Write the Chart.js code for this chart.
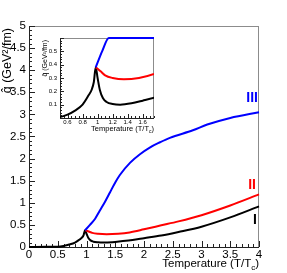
<!DOCTYPE html>
<html>
<head>
<meta charset="utf-8">
<script src="https://cdn.jsdelivr.net/npm/chart.js@4.4.0/dist/chart.umd.min.js"></script>
<style>
  html, body { margin: 0; padding: 0; background: #fff; }
  #wrap { position: relative; width: 287px; height: 273px; }
  #main { position: absolute; left: 0; top: 0; }
  #inset { position: absolute; left: 36px; top: 28px; }
</style>
</head>
<body>
<div id="wrap">
  <canvas id="main" width="287" height="273"></canvas>
  <canvas id="inset" width="124" height="108"></canvas>
</div>
<script>
// --- data (T/Tc, qhat in GeV^2/fm) ---
var tBlack = [0, 0.3, 0.5, 0.6, 0.7, 0.8, 0.88, 0.92, 0.95, 0.975, 1.0, 1.03, 1.07, 1.12, 1.2, 1.3, 1.45, 1.6, 1.8, 2.0, 2.3, 2.6, 3.0, 3.5, 4.0]
var qBlack = [0.0, 0.003, 0.008, 0.025, 0.055, 0.1, 0.17, 0.21, 0.27, 0.38, 0.3, 0.21, 0.15, 0.12, 0.105, 0.1, 0.11, 0.13, 0.16, 0.2, 0.26, 0.34, 0.46, 0.67, 0.92]

var tRed = [0.975, 1.0, 1.04, 1.1, 1.2, 1.35, 1.55, 1.75, 2.0, 2.3, 2.6, 3.0, 3.5, 4.0]
var qRed = [0.38, 0.37, 0.35, 0.32, 0.3, 0.29, 0.3, 0.33, 0.4, 0.49, 0.58, 0.72, 0.94, 1.19]

var tBlue = [0.975, 1.06, 1.15, 1.23, 1.32, 1.41, 1.5, 1.58, 1.76, 1.93, 2.1, 2.28, 2.45, 2.85, 3.1, 3.5, 4.0]
var qBlue = [0.38, 0.5, 0.64, 0.82, 1.02, 1.24, 1.46, 1.63, 1.91, 2.1, 2.25, 2.37, 2.47, 2.64, 2.77, 2.92, 3.05]

var mainXTicks = [0, 0.5, 1, 1.5, 2, 2.5, 3, 3.5, 4]
var mainYTicks = [0, 0.5, 1, 1.5, 2, 2.5, 3, 3.5, 4, 4.5, 5]
var insetXTicks = [0.6, 0.8, 1, 1.2, 1.4, 1.6]
var insetYTicks = [0.1, 0.2, 0.3, 0.4, 0.5]

var curveLabels = ["I", "II", "III"]

var FONT = "'Liberation Sans', Arial, sans-serif"

function pts(ts, qs, cap) {
  return ts.map(function (t, i) {
    return { x: t, y: cap === undefined ? qs[i] : Math.min(qs[i], cap) }
  })
}

function fixTicks(arr) {
  return function (scale) { scale.ticks = arr.map(function (v) { return { value: v } }) }
}

// ROOT-like frame, inside ticks, titles and curve labels
var rootFrame = {
  id: "rootFrame",
  beforeDatasetsDraw: function (chart, args, o) {
    var ctx = chart.ctx, a = chart.chartArea, x = chart.scales.x, y = chart.scales.y
    ctx.save()
    ctx.lineWidth = 1
    ctx.strokeStyle = "#8c8c8c"
    ctx.strokeRect(a.left + 0.5, a.top + 0.5, a.right - a.left - 1, a.bottom - a.top)
    ctx.strokeStyle = "#222"
    ctx.beginPath()
    ctx.moveTo(a.left + 0.5, a.top); ctx.lineTo(a.left + 0.5, a.bottom + 0.5)
    ctx.lineTo(a.right, a.bottom + 0.5)
    var v, p
    for (v = x.min; v <= x.max + 1e-9; v += o.xMinor) {
      p = Math.round(x.getPixelForValue(v)) + 0.5
      var big = Math.abs(v / o.xMajor - Math.round(v / o.xMajor)) < 1e-6
      ctx.moveTo(p, a.bottom); ctx.lineTo(p, a.bottom - (big ? o.major : o.minor))
    }
    for (v = y.min; v <= y.max + 1e-9; v += o.yMinor) {
      p = Math.round(y.getPixelForValue(v)) + 0.5
      var bigY = Math.abs(v / o.yMajor - Math.round(v / o.yMajor)) < 1e-6
      ctx.moveTo(a.left, p); ctx.lineTo(a.left + (bigY ? o.major : o.minor), p)
    }
    ctx.stroke()
    ctx.restore()
  },
  afterDatasetsDraw: function (chart, args, o) {
    var ctx = chart.ctx, a = chart.chartArea
    ctx.save()
    ctx.fillStyle = "#000"
    // x title with subscript c, right aligned
    var fs = o.titleSize
    ctx.font = fs + "px " + FONT
    ctx.textBaseline = "alphabetic"
    var s1 = "Temperature (T/T", s3 = ")"
    var w1 = ctx.measureText(s1).width, w3 = ctx.measureText(s3).width
    ctx.font = Math.round(fs * 0.7) + "px " + FONT
    var w2 = ctx.measureText("c").width
    var x0 = a.right - (w1 + w2 + w3), yb = a.bottom + o.xTitleDy
    ctx.font = fs + "px " + FONT
    ctx.fillText(s1, x0, yb)
    ctx.fillText(s3, x0 + w1 + w2, yb)
    ctx.font = Math.round(fs * 0.7) + "px " + FONT
    ctx.fillText("c", x0 + w1, yb + fs * 0.3)
    // y title, rotated, end at top
    ctx.font = o.yTitleSize + "px " + FONT
    ctx.translate(o.yTitleX, a.top + o.yTitleDy)
    ctx.rotate(-Math.PI / 2)
    ctx.textAlign = "right"
    ctx.textBaseline = "middle"
    ctx.fillText("q\u0302 (GeV\u00b2/fm)", 0, 0)
    ctx.restore()
    if (o.labels) {
      var xs = chart.scales.x, ys = chart.scales.y
      ctx.save()
      ctx.font = "bold 14px " + FONT
      ctx.textAlign = "center"
      ctx.textBaseline = "middle"
      o.labels.forEach(function (l) {
        ctx.fillStyle = l.color
        ctx.fillText(l.text, xs.getPixelForValue(l.at[0]), ys.getPixelForValue(l.at[1]))
      })
      ctx.restore()
    }
  }
}

function lineSet(data, color, width, clip) {
  return {
    data: data, borderColor: color, borderWidth: width, pointRadius: 0,
    cubicInterpolationMode: "monotone", fill: false, clip: clip
  }
}

new Chart(document.getElementById("main"), {
  type: "line",
  data: {
    datasets: [
      lineSet(pts(tBlue, qBlue), "#0000ff", 2, false),
      lineSet(pts(tRed, qRed), "#ff0000", 2, false),
      lineSet(pts(tBlack, qBlack), "#000000", 2, false)
    ]
  },
  options: {
    responsive: false,
    devicePixelRatio: 1,
    animation: false,
    layout: { padding: { top: 26, right: 28, left: 0, bottom: 0 } },
    plugins: {
      legend: { display: false },
      tooltip: { enabled: false },
      rootFrame: {
        xMajor: 0.5, xMinor: 0.1, yMajor: 0.5, yMinor: 0.1, major: 6, minor: 3,
        titleSize: 11.5, xTitleDy: 20, yTitleSize: 12.5, yTitleX: 8, yTitleDy: 2,
        labels: [
          { text: curveLabels[0], color: "#000", at: [3.93, 0.6] },
          { text: curveLabels[1], color: "#ff0000", at: [3.88, 1.39] },
          { text: curveLabels[2], color: "#0000ff", at: [3.88, 3.36] }
        ]
      }
    },
    scales: {
      x: {
        type: "linear", min: 0, max: 4,
        afterBuildTicks: fixTicks(mainXTicks),
        afterFit: function (s) { s.height = 26 },
        grid: { display: false, drawTicks: false }, border: { display: false },
        ticks: { padding: 1, maxRotation: 0, color: "#000", font: { family: FONT, size: 11.5 },
          callback: function (v) { return String(v) } }
      },
      y: {
        min: 0, max: 5,
        afterBuildTicks: fixTicks(mainYTicks),
        afterFit: function (s) { s.width = 29 },
        grid: { display: false, drawTicks: false }, border: { display: false },
        ticks: { padding: 3, color: "#000", font: { family: FONT, size: 11.5 },
          callback: function (v) { return String(v) } }
      }
    }
  },
  plugins: [rootFrame]
})

var clipIn = { left: 0, right: 0, top: 2, bottom: 2 }

new Chart(document.getElementById("inset"), {
  type: "line",
  data: {
    datasets: [
      lineSet(pts(tBlue, qBlue, 0.6), "#0000ff", 2, clipIn),
      lineSet(pts(tRed, qRed), "#ff0000", 2, clipIn),
      lineSet(pts(tBlack, qBlack), "#000000", 2, clipIn)
    ]
  },
  options: {
    responsive: false,
    devicePixelRatio: 1,
    animation: false,
    layout: { padding: { top: 10, right: 6, left: 0, bottom: 0 } },
    plugins: {
      legend: { display: false },
      tooltip: { enabled: false },
      rootFrame: {
        xMajor: 0.2, xMinor: 0.05, yMajor: 0.1, yMinor: 0.02, major: 4, minor: 2,
        titleSize: 7.5, xTitleDy: 13, yTitleSize: 7, yTitleX: 9, yTitleDy: 2
      }
    },
    scales: {
      x: {
        type: "linear", min: 0.5, max: 1.75,
        afterBuildTicks: fixTicks(insetXTicks),
        afterFit: function (s) { s.height = 18 },
        grid: { display: false, drawTicks: false }, border: { display: false },
        ticks: { padding: 1, maxRotation: 0, color: "#000", font: { family: FONT, size: 6 },
          callback: function (v) { return String(v) } }
      },
      y: {
        min: 0, max: 0.6,
        afterBuildTicks: fixTicks(insetYTicks),
        afterFit: function (s) { s.width = 24 },
        grid: { display: false, drawTicks: false }, border: { display: false },
        ticks: { padding: 3, color: "#000", font: { family: FONT, size: 6 },
          callback: function (v) { return String(v) } }
      }
    }
  },
  plugins: [rootFrame]
})
</script>
</body>
</html>
